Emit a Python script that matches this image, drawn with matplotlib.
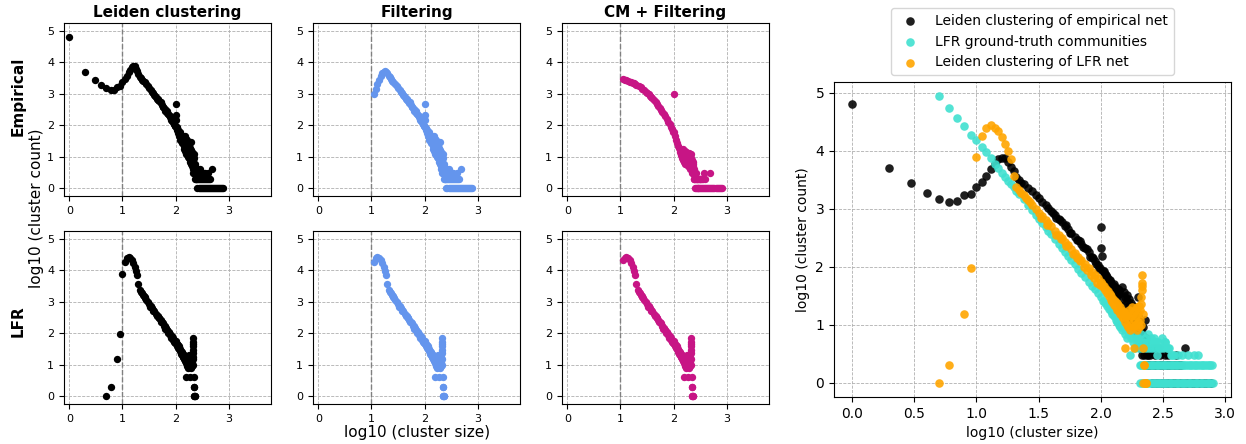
import numpy as np
import matplotlib
matplotlib.use("Agg")
import matplotlib.pyplot as plt

# ---- empirical network: Leiden clustering (cluster size -> number of clusters)
emp_head_sizes = [1, 2, 3, 4, 5, 6, 7, 8, 9, 10, 11, 12, 13, 14, 15, 16, 17, 18, 19, 20, 21, 22, 23]
emp_leiden_head_counts = [64600, 5000, 2800, 1900, 1480, 1320, 1350, 1700, 1780, 2400, 2900, 3700,
                          4800, 5900, 7100, 7600, 7400, 6300, 5300, 4400, 3500, 3100, 2800]

# filtering drops clusters of size <= 10 and reshapes the small-size part
emp_filter_head_sizes = [11, 12, 13, 14, 15, 16, 17, 18, 19, 20, 21, 22, 23]
emp_filter_head_counts = [1000, 1410, 2000, 2750, 3630, 4470, 5010, 5250, 5010, 4470, 3800, 3310, 2880]

# shared tail of the empirical distributions (size >= 24)
emp_tail_sizes = [24, 26, 28, 30, 32, 34, 36, 38, 40, 41, 43, 44, 46, 47, 49, 52, 53, 55, 57, 58,
                  62, 64, 66, 68, 70, 72, 75, 77, 80, 82, 85, 87, 90, 92, 95, 97, 99, 100, 101, 102,
                  104, 106, 107, 108, 110, 112, 113, 115, 117, 118, 119, 121, 123, 124, 125, 127, 128,
                  130, 131, 132, 133, 134, 136, 137, 138,
                  140, 142, 144, 146, 148, 150, 152, 154, 156, 158, 160, 162, 164, 166, 168, 170, 172,
                  174, 176, 178, 180, 182, 184, 186, 188, 190, 192, 194, 196, 198, 199, 200, 202, 204,
                  206, 208, 210, 212, 214, 216, 218, 220, 222, 224, 226, 228, 230, 232, 234, 236, 238, 240,
                  245, 256, 268, 280, 292, 305, 318, 332, 346, 361, 377, 393, 410, 425, 445,
                  258, 270, 283, 296, 310, 324, 339, 355, 371, 388, 405, 423, 442, 462, 483, 505, 528,
                  552, 577, 603, 630, 658, 688, 719, 750, 775,
                  250, 275, 300, 330, 350, 400, 262, 287, 480]
emp_tail_counts = [2630, 2290, 2000, 1740, 1510, 1320, 1150, 1020, 910, 850, 776, 700, 676, 640, 589, 513, 530, 447, 380, 389,
                   331, 290, 288, 275, 251, 220, 209, 200, 178, 150, 148, 140, 126, 110, 107, 92, 95, 490, 214, 151,
                   85, 83, 70, 76, 71, 66, 58, 62, 45, 56, 60, 52, 34, 49, 41, 46, 50,
                   42, 45, 28, 40, 32, 35, 42, 34,
                   40, 22, 35, 18, 45, 28, 15, 36, 20, 30, 12, 26, 33, 14, 22, 28, 10,
                   19, 24, 9, 17, 21, 8, 15, 19, 7, 12, 16, 6, 11, 30, 14, 5, 9,
                   12, 4, 8, 10, 3, 7, 9, 4, 6, 3, 12, 5, 2, 6, 3, 4, 2, 3,
                   2, 2, 2, 2, 2, 2, 2, 2, 2, 2, 2, 2, 2, 2, 2,
                   1, 1, 1, 1, 1, 1, 1, 1, 1, 1, 1, 1, 1, 1, 1, 1, 1,
                   1, 1, 1, 1, 1, 1, 1, 1, 1,
                   3, 3, 3, 3, 3, 3, 4, 4, 4]

# ---- empirical network: CM + filtering
emp_cm_sizes = [11, 12, 13, 14, 15, 16, 17, 18, 19, 20, 22, 24, 26, 28, 30, 32, 34, 36, 38, 40,
                43, 46, 49, 52, 55, 58, 62, 66, 70, 75, 80, 85, 90, 95, 99, 100, 101, 105, 110, 115,
                120, 125, 130,
                132, 134, 136, 138, 140, 142, 144, 146, 148, 150, 152, 154, 156, 158, 160, 162, 164,
                166, 168, 170, 172, 174, 176, 178, 180, 182, 184, 186, 188, 190, 192, 194, 196, 198,
                200, 202, 204, 206, 208, 210, 212, 214, 216, 218, 220, 222, 224, 226, 228, 230, 232,
                234, 236, 238, 240, 243, 246, 250, 255, 260, 266, 272, 280, 290, 300, 310, 320, 330,
                345, 360, 375, 390, 490,
                252, 262, 275, 285, 295, 305, 315, 325, 340, 355, 370, 385, 400, 420, 440, 460, 485,
                510, 535, 560, 590, 620, 650, 680, 715, 750, 790, 820]
emp_cm_counts = [2950, 2820, 2690, 2570, 2450, 2340, 2240, 2140, 2040, 1950, 1780, 1620, 1450, 1320, 1170, 1050, 955, 870, 794, 724,
                 631, 550, 479, 417, 363, 316, 269, 224, 191, 155, 129, 107, 89, 74, 63, 955, 59, 46, 35, 28,
                 22, 19, 16,
                 14, 17, 11, 15, 12, 16, 9, 13, 17, 10, 12, 8, 14, 11, 7, 15, 9,
                 12, 6, 10, 14, 8, 11, 6, 9, 12, 7, 5, 10, 8, 13, 6, 9, 5,
                 7, 11, 4, 8, 6, 9, 5, 7, 12, 4, 6, 8, 3, 5, 7, 4, 6,
                 3, 5, 2, 4, 3, 2, 3, 2, 2, 3, 2, 2, 2, 2, 2, 2, 2,
                 2, 2, 3, 2, 3,
                 1, 1, 1, 1, 1, 1, 1, 1, 1, 1, 1, 1, 1, 1, 1, 1, 1,
                 1, 1, 1, 1, 1, 1, 1, 1, 1, 1, 1]

# ---- LFR network: Leiden clustering
lfr_leiden_sizes = [5, 6, 8, 9, 10, 11, 12, 13, 14, 15, 16, 17, 18, 19, 20, 21, 22, 23, 24, 25,
                    26, 27, 28, 30, 32, 33, 34, 36, 37, 38, 40, 43, 44, 46, 48, 49, 52, 53, 55, 58,
                    60, 62, 64, 66, 68, 70, 73, 75, 78, 80, 83, 85, 88, 90, 93, 95, 98, 100,
                    102, 104, 106, 108, 110, 112, 114, 116, 118, 120, 122, 124, 126, 128, 130, 132, 134,
                    136, 138, 140, 142, 144, 146, 148, 150, 152, 154, 156, 158, 160, 162, 164, 166, 168,
                    170, 172, 174, 176, 178, 180, 182, 184, 186, 188, 190, 192, 194, 196, 198, 200, 202,
                    204, 206, 208, 210, 211, 212, 213, 214, 215, 216, 217, 219, 222, 224, 220, 226, 229, 233]
lfr_leiden_counts = [1, 2, 15, 95, 7900, 17800, 24500, 27500, 25000, 21900, 17400, 13200, 9800, 7100, 3700, 2350, 2090, 1905, 1700, 1550,
                     1410, 1290, 1175, 1000, 851, 692, 741, 646, 525, 562, 501, 417, 355, 355, 295, 309, 263, 229, 234, 204,
                     166, 174, 141, 148, 126, 129, 100, 110, 89, 95, 71, 81, 63, 71, 52, 63, 48, 55,
                     50, 44, 47, 40, 42, 35, 38, 31, 34, 27, 31, 25, 28, 22, 26, 20, 24,
                     18, 22, 17, 20, 15, 18, 14, 17, 13, 16, 11, 4, 14, 10, 16, 9, 13,
                     18, 8, 14, 10, 20, 9, 16, 12, 4, 18, 10, 14, 8, 20, 11, 16, 9,
                     21, 12, 18, 10, 23, 30, 40, 52, 71, 46, 15, 4, 2, 2, 1, 1, 1, 1]

# CM + filtering on LFR only changes the first few sizes
lfr_cm_head_sizes = [11, 12, 13]
lfr_cm_head_counts = [21000, 25000, 27500]

# ---- LFR ground-truth communities
lfr_gt_sizes = [5, 6, 7, 8, 9, 10, 11, 12, 13, 14, 15, 16, 17, 18, 19, 20, 21, 22, 24, 26,
                28, 30, 32, 34, 36, 38, 40, 43, 46, 49, 52, 55, 58, 62, 66, 70, 75, 80, 85, 90,
                95, 100, 104, 108, 112, 116, 120, 124, 128, 132, 136, 140, 144, 148, 152, 156, 160,
                164, 168, 172, 176, 180, 184, 188, 192, 196, 200, 204, 207, 212, 216, 220, 225, 230,
                235, 240, 245, 250, 255, 260, 266, 270, 275, 280, 284, 290, 296, 302, 310, 318, 326,
                330, 338, 345, 355, 365, 375, 390, 420, 450, 500, 560, 600,
                205, 211, 218, 226, 233, 241, 248, 256, 264, 273, 282, 291, 300, 311, 320, 331, 342,
                353, 364, 376, 388, 401, 414, 427, 441, 455, 470, 486, 502, 518, 535, 552, 570, 588,
                607, 627, 647, 668, 690, 712, 735, 760, 785,
                208, 215, 222, 229, 237, 244, 252, 261, 268, 277, 286, 295, 305, 315, 325, 336, 347,
                358, 370, 382, 394, 407, 421, 434, 448, 462, 478, 494, 510, 526, 543, 561, 579, 597,
                617, 637, 657, 679, 701, 723, 747, 772, 797]
lfr_gt_counts = [87100, 55000, 36300, 26300, 19050, 15100, 11750, 9550, 7410, 6030, 5010, 4170, 3550, 3020, 2630, 2340, 2040, 1820, 1445, 1150,
                 955, 794, 661, 562, 479, 417, 363, 295, 245, 209, 178, 151, 132, 110, 93, 79, 66, 55, 47, 41,
                 35, 30, 26, 24, 21, 19, 17, 15, 14, 12, 11, 10, 9, 8, 9, 7, 8,
                 6, 7, 3, 6, 5, 7, 4, 6, 5, 6, 4, 5, 7, 4, 5, 6, 4,
                 5, 7, 4, 5, 6, 4, 5, 6, 4, 5, 3, 5, 4, 4, 6, 4, 5,
                 5, 4, 4, 4, 3, 3, 3, 3, 3, 3, 3, 3,
                 2, 2, 2, 2, 2, 2, 2, 2, 2, 2, 2, 2, 2, 2, 2, 2, 2,
                 2, 2, 2, 2, 2, 2, 2, 2, 2, 2, 2, 2, 2, 2, 2, 2, 2,
                 2, 2, 2, 2, 2, 2, 2, 2, 2,
                 1, 1, 1, 1, 1, 1, 1, 1, 1, 1, 1, 1, 1, 1, 1, 1, 1,
                 1, 1, 1, 1, 1, 1, 1, 1, 1, 1, 1, 1, 1, 1, 1, 1, 1,
                 1, 1, 1, 1, 1, 1, 1, 1, 1]

col_titles = ["Leiden clustering", "Filtering", "CM + Filtering"]
row_titles = ["Empirical", "LFR"]
legend_labels = ["Leiden clustering of empirical net", "LFR ground-truth communities",
                 "Leiden clustering of LFR net"]


def log_xy(sizes, counts):
    return np.log10(np.array(sizes, dtype=float)), np.log10(np.array(counts, dtype=float))


# assemble the six small-panel series
emp_leiden = (emp_head_sizes + emp_tail_sizes, emp_leiden_head_counts + emp_tail_counts)
emp_filter = (emp_filter_head_sizes + emp_tail_sizes, emp_filter_head_counts + emp_tail_counts)
emp_cm = (emp_cm_sizes, emp_cm_counts)
lfr_leiden = (lfr_leiden_sizes, lfr_leiden_counts)
lfr_filter = ([s for s in lfr_leiden_sizes if s >= 11],
              [c for s, c in zip(lfr_leiden_sizes, lfr_leiden_counts) if s >= 11])
lfr_cm = (lfr_cm_head_sizes + [s for s in lfr_leiden_sizes if s >= 14],
          lfr_cm_head_counts + [c for s, c in zip(lfr_leiden_sizes, lfr_leiden_counts) if s >= 14])

panels = [[emp_leiden, emp_filter, emp_cm], [lfr_leiden, lfr_filter, lfr_cm]]
panel_colors = ["black", "cornflowerblue", "mediumvioletred"]

fig = plt.figure(figsize=(12.46, 4.44), dpi=100)

lefts = [0.0514, 0.2512, 0.4510]
bottoms = [0.5586, 0.0901]
w, h = 0.1663, 0.3896

for r in range(2):
    for c in range(3):
        ax = fig.add_axes([lefts[c], bottoms[r], w, h])
        x, y = log_xy(*panels[r][c])
        ax.scatter(x, y, s=28, color=panel_colors[c], zorder=3, linewidths=0)
        ax.axvline(1, color="gray", linestyle="--", linewidth=1, zorder=2)
        ax.grid(True, linestyle="--", linewidth=0.6, color="#b0b0b0", zorder=0)
        ax.set_axisbelow(True)
        ax.set_xlim(-0.1, 3.8)
        ax.set_ylim(-0.25, 5.25)
        ax.set_xticks([0, 1, 2, 3])
        ax.set_yticks([0, 1, 2, 3, 4, 5])
        ax.tick_params(labelsize=8)
        if r == 0:
            ax.set_title(col_titles[c], fontsize=11, fontweight="bold", pad=4)

fig.text(0.0148, 0.784, row_titles[0], rotation=90, fontsize=11, fontweight="bold",
         ha="center", va="center")
fig.text(0.0148, 0.277, row_titles[1], rotation=90, fontsize=11, fontweight="bold",
         ha="center", va="center")
fig.text(0.029, 0.532, "log10 (cluster count)", rotation=90, fontsize=11, ha="center", va="center")
fig.text(0.3347, 0.026, "log10 (cluster size)", fontsize=11, ha="center", va="center")

# big comparison panel
ax = fig.add_axes([0.6693, 0.1059, 0.3186, 0.7095])
x, y = log_xy(*emp_leiden)
ax.scatter(x, y, s=38, color="black", alpha=0.88, linewidths=0, label=legend_labels[0], zorder=3)
x, y = log_xy(lfr_gt_sizes, lfr_gt_counts)
ax.scatter(x, y, s=38, color="turquoise", alpha=0.9, linewidths=0, label=legend_labels[1], zorder=3)
x, y = log_xy(lfr_leiden_sizes, lfr_leiden_counts)
ax.scatter(x, y, s=38, color="orange", alpha=0.9, linewidths=0, label=legend_labels[2], zorder=3)
ax.grid(True, linestyle="--", linewidth=0.6, color="#b0b0b0", zorder=0)
ax.set_axisbelow(True)
ax.set_xlabel("log10 (cluster size)", fontsize=10)
ax.set_ylabel("log10 (cluster count)", fontsize=10)
ax.tick_params(labelsize=10)
ax.legend(loc="lower center", bbox_to_anchor=(0.5, 1.0), fontsize=10)

plt.savefig("out.png", dpi=100)
